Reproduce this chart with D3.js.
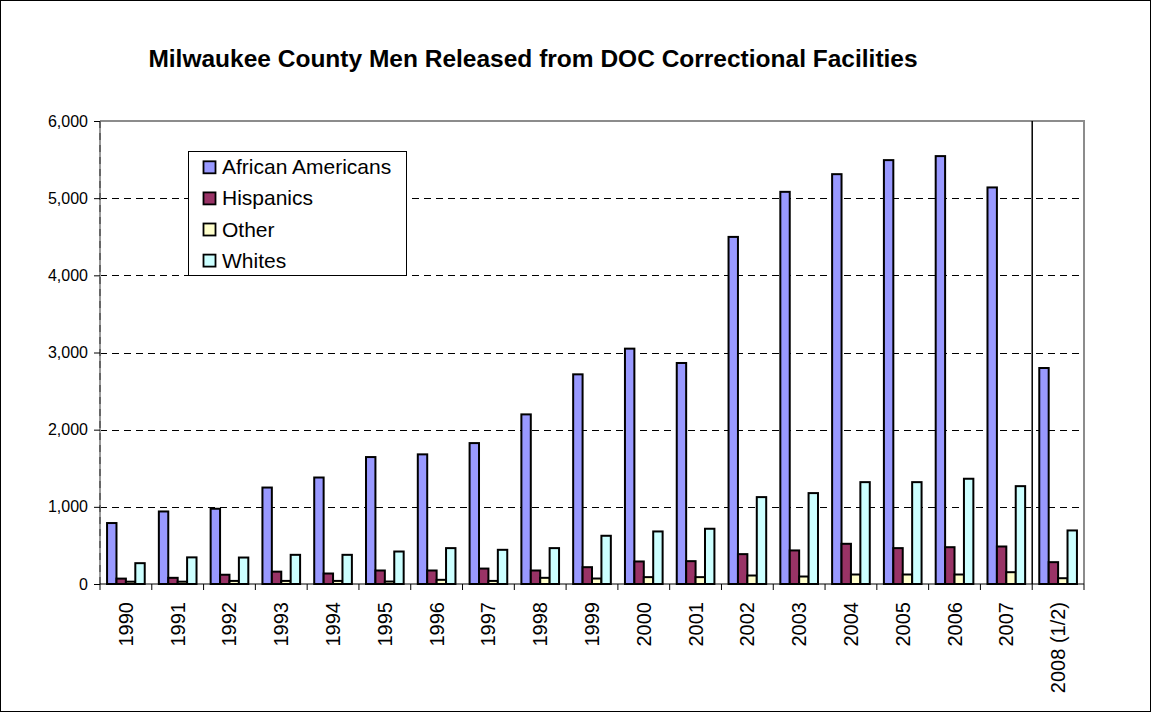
<!DOCTYPE html>
<html>
<head>
<meta charset="utf-8">
<script src="https://cdn.jsdelivr.net/npm/d3@7"></script>
<style>
html,body{margin:0;padding:0;background:#fff;}
svg{display:block;font-family:"Liberation Sans",Arial,sans-serif;}
</style>
</head>
<body>
<svg id="chart" width="1151" height="712"></svg>
<script>
const categories = ["1990","1991","1992","1993","1994","1995","1996","1997","1998","1999","2000","2001","2002","2003","2004","2005","2006","2007","2008 (1/2)"];
const seriesNames = ["African Americans","Hispanics","Other","Whites"];
const africanAmericans = [790,940,975,1250,1380,1645,1680,1826,2198,2717,3050,2864,4498,5082,5311,5493,5545,5139,2799];
const hispanics = [70,80,120,160,136,175,175,200,175,218,292,296,387,435,521,465,477,486,283];
const other = [30,30,40,40,40,32,54,40,80,71,89,89,110,97,123,123,123,153,75];
const whites = [270,345,343,378,378,421,465,443,465,625,681,716,1126,1178,1320,1320,1364,1268,694];
const yTicks = [0,1000,2000,3000,4000,5000,6000];
const colors = ["#9999FF","#993366","#FFFFCC","#CCFFFF"];
const title = "Milwaukee County Men Released from DOC Correctional Facilities";

(function(){
const seriesValues = [africanAmericans, hispanics, other, whites];
const svg = d3.select("#chart");
const W = 1151, H = 712;
const pL = 100, pR = 1084, pT = 121, pB = 584;

// outer border
svg.append("rect").attr("x",0.5).attr("y",0.5).attr("width",W-1).attr("height",H-1)
  .attr("fill","#fff").attr("stroke","#000").attr("stroke-width",1);

// title
svg.append("text").attr("x",533).attr("y",67).attr("text-anchor","middle")
  .attr("font-size",24.5).attr("font-weight","bold").text(title);

const x = d3.scaleBand().domain(categories).range([pL,pR]).paddingInner(0).paddingOuter(0);
const y = d3.scaleLinear().domain([0,6000]).range([pB,pT]);
const barW = x.bandwidth()/(4+1.5);
const gap = (x.bandwidth()-4*barW)/2;

// gridlines
svg.append("g").selectAll("line").data(yTicks.filter(d=>d>0 && d<6000)).join("line")
  .attr("x1",pL).attr("x2",pR).attr("y1",d=>Math.round(y(d))+0.5).attr("y2",d=>Math.round(y(d))+0.5)
  .attr("stroke","#000").attr("stroke-width",1).attr("stroke-dasharray","7,5");

// plot border (top & right gray)
svg.append("path").attr("d",`M${pL},${pT}H${pR}V${pB}`).attr("fill","none")
  .attr("stroke","#8c8c8c").attr("stroke-width",2);
// left axis
svg.append("line").attr("x1",pL).attr("x2",pL).attr("y1",pT).attr("y2",pB)
  .attr("stroke","#9a9a9a").attr("stroke-width",2);
svg.append("line").attr("x1",pL).attr("x2",pL).attr("y1",pT).attr("y2",pB)
  .attr("stroke","#333").attr("stroke-width",1).attr("stroke-dasharray","7,5");

// vertical separator before 2008
const sepX = x(categories[categories.length-1]);
svg.append("line").attr("x1",sepX).attr("x2",sepX).attr("y1",pT).attr("y2",pB)
  .attr("stroke","#000").attr("stroke-width",1.5);

// bars
const rows = [];
categories.forEach((c,i)=>{ seriesValues.forEach((vals,s)=>{ rows.push({c:c, s:s, v:vals[i]}); }); });
svg.append("g").selectAll("rect").data(rows).join("rect")
  .attr("x", d=>x(d.c)+gap+d.s*barW)
  .attr("y", d=>y(d.v))
  .attr("width", barW)
  .attr("height", d=>y(0)-y(d.v))
  .attr("fill", d=>colors[d.s]).attr("stroke","#000").attr("stroke-width",2);

// y axis ticks & labels
const yAxis = d3.axisLeft(y).tickValues(yTicks).tickSize(6).tickFormat(d3.format(","));
const ya = svg.append("g").attr("transform",`translate(${pL},0)`).call(yAxis);
ya.select(".domain").remove();
ya.selectAll("text").attr("font-size",16).attr("fill","#000").attr("x",-12)
  .attr("font-family","Liberation Sans, Arial, sans-serif");
ya.selectAll("line").attr("stroke","#000");

// x axis
const xa = svg.append("g").attr("transform",`translate(0,${pB})`);
xa.append("line").attr("x1",pL).attr("x2",pR).attr("y1",0).attr("y2",0).attr("stroke","#000").attr("stroke-width",1.2);
const bounds = categories.map(c=>x(c)).concat([pR]);
xa.selectAll("line.tk").data(bounds).join("line").attr("class","tk")
  .attr("x1",d=>d).attr("x2",d=>d).attr("y1",0).attr("y2",6).attr("stroke","#000");
xa.selectAll("text").data(categories).join("text")
  .attr("transform",d=>`translate(${x(d)+x.bandwidth()/2+7},18) rotate(-90)`)
  .attr("text-anchor","end").attr("font-size",20).text(d=>d);

// legend
const lg = svg.append("g");
lg.append("rect").attr("x",188.5).attr("y",151.5).attr("width",218).attr("height",124)
  .attr("fill","#fff").attr("stroke","#000").attr("stroke-width",1);
seriesNames.forEach((n,i)=>{
  const by = 174.3 + i*31.1;
  lg.append("rect").attr("x",203.5).attr("y",by-13).attr("width",12).attr("height",12)
    .attr("fill",colors[i]).attr("stroke","#000").attr("stroke-width",1.8);
  lg.append("text").attr("x",222).attr("y",by).attr("font-size",21).text(n);
});
})();
</script>
</body>
</html>
